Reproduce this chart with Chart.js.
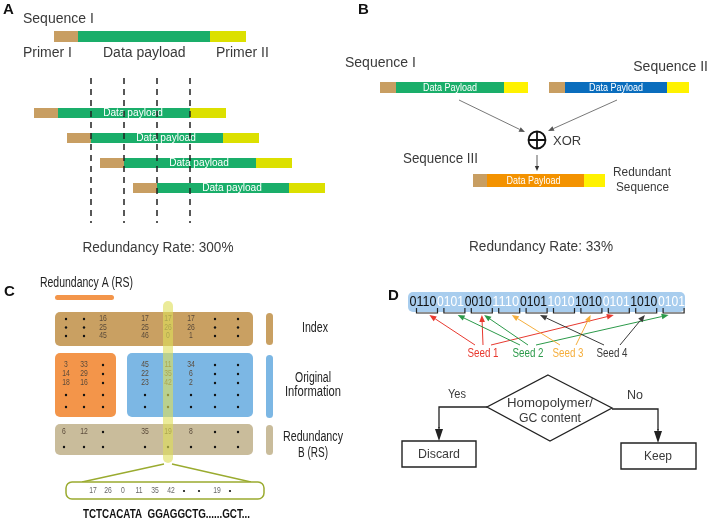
<!DOCTYPE html>
<html>
<head>
<meta charset="utf-8">
<script src="https://cdn.jsdelivr.net/npm/chart.js@4.4.1/dist/chart.umd.min.js"></script>
<style>
  html, body { margin: 0; padding: 0; background: #fff; overflow: hidden; }
  #wrap { position: relative; width: 710px; height: 523px; }
</style>
</head>
<body>
<div id="wrap"><canvas id="fig"></canvas></div>
<script>
"use strict";

// ---- data ----
const seqParts = ["Primer I", "Data payload", "Primer II"];
const partLengths = [24, 132, 36];
const fragmentShifts = [0, 1, 2, 3];

const xorInputs = ["Sequence I", "Sequence II"];
const xorLengths = [[16, 108, 24], [16, 102, 22]];
const redundantLengths = [14, 97, 21];

const indexCols = [[null, null, null], [null, null, null], [16, 25, 45], [17, 25, 46],
                   [17, 26, 0], [17, 26, 1], [null, null, null], [null, null, null]];
const redundancyACols = [[3, 14, 18, null, null], [33, 29, 16, null, null], [null, null, null, null, null]];
const originalCols = [[45, 22, 23, null, null], [11, 35, 42, null, null], [34, 6, 2, null, null],
                      [null, null, null, null, null], [null, null, null, null, null]];
const redundancyBCols = [[6, null], [12, null], [null, null], [35, null], [19, null],
                         [8, null], [null, null], [null, null]];
const strandCodes = [17, 26, 0, 11, 35, 42, null, null, 19, null];
const strandBases = "TCTCACATA  GGAGGCTG......GCT...";

const bitGroups = ["0110", "0101", "0010", "1110", "0101", "1010", "1010", "0101", "1010", "0101"];
const seeds = ["Seed 1", "Seed 2", "Seed 3", "Seed 4"];
const seedTargets = [[1, 3, 8], [2, 3, 10], [4, 7], [5, 9]];
const seedColors = ["#e8392f", "#2c9a4a", "#f5ae3c", "#3a3a3a"];

// ---- drawing helpers ----
const FONT = "'Liberation Sans', Arial, sans-serif";
let X = v => v, Y = v => v;

function text(ctx, s, x, y, o = {}) {
  ctx.save();
  ctx.font = `${o.weight || "normal"} ${o.size || 14}px ${FONT}`;
  ctx.fillStyle = o.color || "#3a3a3a";
  ctx.textBaseline = "middle";
  const w = ctx.measureText(s).width;
  const sx = o.width ? o.width / w : (o.sx || 1);
  ctx.translate(X(x), Y(y));
  ctx.scale(sx, 1);
  const off = o.align === "center" ? -w / 2 : o.align === "right" ? -w : 0;
  ctx.fillText(s, off, 0);
  ctx.restore();
}

function box(ctx, x, y, w, h, r, fill, stroke, lw) {
  ctx.beginPath();
  ctx.roundRect(X(x), Y(y), X(x + w) - X(x), Y(y + h) - Y(y), r);
  if (fill) { ctx.fillStyle = fill; ctx.fill(); }
  if (stroke) { ctx.strokeStyle = stroke; ctx.lineWidth = lw || 1; ctx.stroke(); }
}

function line(ctx, pts, color, lw, dash) {
  ctx.save();
  ctx.beginPath();
  pts.forEach((p, i) => i ? ctx.lineTo(X(p[0]), Y(p[1])) : ctx.moveTo(X(p[0]), Y(p[1])));
  ctx.strokeStyle = color; ctx.lineWidth = lw; ctx.setLineDash(dash || []);
  ctx.stroke();
  ctx.restore();
}

function arrow(ctx, x1, y1, x2, y2, color, lw, hl, hw) {
  const a = Math.atan2(Y(y2) - Y(y1), X(x2) - X(x1));
  const bx = X(x2) - hl * Math.cos(a), by = Y(y2) - hl * Math.sin(a);
  ctx.save();
  ctx.strokeStyle = color; ctx.fillStyle = color; ctx.lineWidth = lw;
  ctx.beginPath(); ctx.moveTo(X(x1), Y(y1)); ctx.lineTo(bx, by); ctx.stroke();
  ctx.beginPath();
  ctx.moveTo(X(x2), Y(y2));
  ctx.lineTo(bx + hw * Math.sin(a), by - hw * Math.cos(a));
  ctx.lineTo(bx - hw * Math.sin(a), by + hw * Math.cos(a));
  ctx.closePath(); ctx.fill();
  ctx.restore();
}

function segBar(ctx, x, y, h, lens, colors) {
  let cx = x;
  lens.forEach((len, i) => {
    ctx.fillStyle = colors[i];
    ctx.fillRect(X(cx), Y(y), X(cx + len) - X(cx), Y(y + h) - Y(y));
    cx += len;
  });
}

function dot(ctx, x, y, r, color) {
  ctx.beginPath();
  ctx.arc(X(x), Y(y), r, 0, Math.PI * 2);
  ctx.fillStyle = color || "#111";
  ctx.fill();
}

// ---- panels ----
function panelA(ctx) {
  const cols = ["#c89e62", "#1aae6a", "#dce000"];
  text(ctx, "A", 3, 10, { size: 15, weight: "bold", color: "#111" });
  text(ctx, "Sequence I", 23, 19, { size: 14 });
  segBar(ctx, 54, 31, 11, partLengths, cols);
  text(ctx, seqParts[0], 23, 53, { size: 14 });
  text(ctx, seqParts[1], 103, 53, { size: 14 });
  text(ctx, seqParts[2], 216, 53, { size: 14 });

  const dashes = [];
  fragmentShifts.forEach(r => {
    const x0 = 34 + 33 * r, y0 = 108 + 25 * r;
    segBar(ctx, x0, y0, 10, partLengths, cols);
    text(ctx, "Data payload", x0 + partLengths[0] + partLengths[1] / 2 + 9, y0 + 5,
         { size: 11, color: "#fff", align: "center", sx: 0.92 });
    if (r > 0) dashes.push(x0 + partLengths[0]);
  });
  dashes.push(34 + partLengths[0] + partLengths[1]);
  dashes.sort((a, b) => a - b).forEach(x => line(ctx, [[x, 78], [x, 223]], "#222", 1.5, [6, 5]));

  text(ctx, "Redundancy Rate: 300%", 158, 248, { size: 14, align: "center", width: 151 });
}

function panelB(ctx) {
  text(ctx, "B", 358, 10, { size: 15, weight: "bold", color: "#111" });
  text(ctx, xorInputs[0], 345, 63, { size: 14 });
  text(ctx, xorInputs[1], 708, 67, { size: 14, align: "right" });
  segBar(ctx, 380, 82, 11, xorLengths[0], ["#c89e62", "#1aae6a", "#fff200"]);
  segBar(ctx, 549, 82, 11, xorLengths[1], ["#c89e62", "#0a6dbd", "#fff200"]);
  text(ctx, "Data Payload", 380 + xorLengths[0][0] + xorLengths[0][1] / 2, 88,
       { size: 10.5, color: "#fff", align: "center", width: 54 });
  text(ctx, "Data Payload", 549 + xorLengths[1][0] + xorLengths[1][1] / 2, 88,
       { size: 10.5, color: "#fff", align: "center", width: 54 });

  arrow(ctx, 459, 100, 525, 132, "#555", 0.8, 6, 2.5);
  arrow(ctx, 617, 100, 548, 131, "#555", 0.8, 6, 2.5);

  // XOR symbol
  ctx.save();
  ctx.strokeStyle = "#111"; ctx.lineWidth = 1.8;
  ctx.beginPath(); ctx.arc(X(537), Y(140), 8.5, 0, Math.PI * 2); ctx.stroke();
  ctx.beginPath();
  ctx.moveTo(X(528.5), Y(140)); ctx.lineTo(X(545.5), Y(140));
  ctx.moveTo(X(537), Y(131.5)); ctx.lineTo(X(537), Y(148.5));
  ctx.stroke();
  ctx.restore();
  text(ctx, "XOR", 553, 141, { size: 13 });
  arrow(ctx, 537, 155, 537, 171, "#333", 0.8, 5, 2.2);

  text(ctx, "Sequence III", 403, 159, { size: 14, width: 75 });
  segBar(ctx, 473, 174, 13, redundantLengths, ["#c89e62", "#f39200", "#fff200"]);
  text(ctx, "Data Payload", 473 + redundantLengths[0] + redundantLengths[1] / 2 - 2, 181,
       { size: 10.5, color: "#fff", align: "center", width: 54 });
  text(ctx, "Redundant", 613, 172, { size: 13, width: 58 });
  text(ctx, "Sequence", 616, 187, { size: 13, width: 53 });

  text(ctx, "Redundancy Rate: 33%", 541, 247, { size: 14, align: "center", width: 144 });
}

function panelC(ctx) {
  const colX = [66, 84, 103, 145, 168, 191, 215, 238];
  const num = (v, x, y) => v === null ? dot(ctx, x, y, 1.2, "#111")
    : text(ctx, String(v), x, y, { size: 8.5, color: "#5a4a3a", align: "center", sx: 0.8 });

  text(ctx, "C", 4, 292, { size: 15, weight: "bold", color: "#111" });
  text(ctx, "Redundancy A (RS)", 40, 283, { size: 14, color: "#222", width: 93 });
  box(ctx, 55, 295, 59, 5, 2.5, "#f3954a");

  box(ctx, 55, 312, 198, 34, 5, "#c9a062");
  box(ctx, 55, 353, 61, 64, 5, "#f3954a");
  box(ctx, 127, 353, 126, 64, 5, "#7cb7e4");
  box(ctx, 55, 424, 198, 31, 5, "#c9bc9b");

  const idxY = [319, 327.5, 336];
  indexCols.forEach((c, i) => c.forEach((v, j) => num(v, colX[i], idxY[j])));
  const infY = [365, 374, 383, 395, 407];
  redundancyACols.forEach((c, i) => c.forEach((v, j) => num(v, colX[i], infY[j])));
  originalCols.forEach((c, i) => c.forEach((v, j) => num(v, colX[i + 3], infY[j])));
  const rbY = [432, 447];
  redundancyBCols.forEach((c, i) => c.forEach((v, j) => num(v, colX[i] - (i === 0 ? 2 : 0), rbY[j])));

  // highlighted column
  box(ctx, 163, 301, 10, 162, 5, "rgba(222,222,90,0.62)");

  // side keys
  box(ctx, 266, 313, 7, 32, 3.5, "#c9a062");
  box(ctx, 266, 355, 7, 63, 3.5, "#7cb7e4");
  box(ctx, 266, 425, 7, 30, 3.5, "#c9bc9b");
  text(ctx, "Index", 315, 328, { size: 14, color: "#222", align: "center", width: 26 });
  text(ctx, "Original", 313, 378, { size: 14, color: "#222", align: "center", width: 36 });
  text(ctx, "Information", 313, 392, { size: 14, color: "#222", align: "center", width: 56 });
  text(ctx, "Redundancy", 313, 437, { size: 14, color: "#222", align: "center", width: 60 });
  text(ctx, "B (RS)", 313, 453, { size: 14, color: "#222", align: "center", width: 30 });

  // zoomed strand
  line(ctx, [[164, 464], [82, 482]], "#9aab2f", 1.3);
  line(ctx, [[172, 464], [251, 482]], "#9aab2f", 1.3);
  box(ctx, 66, 482, 198, 17, 6, "#fff", "#9aab2f", 1.5);
  const codeX = [93, 108, 123, 139, 155, 171, 184, 199, 217, 230];
  strandCodes.forEach((v, i) => v === null ? dot(ctx, codeX[i], 491, 1.1, "#111")
    : text(ctx, String(v), codeX[i], 491, { size: 8.5, color: "#666", align: "center", sx: 0.8 }));
  text(ctx, strandBases, 83, 515, { size: 12.5, weight: "bold", color: "#111", width: 167 });
}

function panelD(ctx) {
  text(ctx, "D", 388, 296, { size: 15, weight: "bold", color: "#111" });
  box(ctx, 408, 292, 277, 20, 5, "#a8cdee");
  const gx = i => 423 + 27.6 * i;
  bitGroups.forEach((g, i) => text(ctx, g, gx(i), 302.5,
    { size: 14, color: i % 2 ? "#fff" : "#111", align: "center", width: 27 }));
  // brackets
  const bc = i => 427 + 27.4 * i;
  bitGroups.forEach((g, i) => line(ctx, [[bc(i) - 10.5, 308], [bc(i) - 10.5, 313],
    [bc(i) + 10.5, 313], [bc(i) + 10.5, 308]], "#222", 1.2));

  const seedX = [483, 528, 568, 612];
  seeds.forEach((s, k) => {
    text(ctx, s, seedX[k], 353, { size: 13, color: seedColors[k], align: "center", width: 31 });
    const t = seedTargets[k].slice().sort((a, b) => a - b);
    t.forEach((b, j) => {
      const ox = seedX[k] - 8 + (t.length > 1 ? 16 * j / (t.length - 1) : 0);
      const cx = bc(b - 1);
      const tx = cx + Math.max(-5, Math.min(5, (ox - cx) * 0.05));
      arrow(ctx, ox, 345, tx, 315, seedColors[k], 1, 7, 2.8);
    });
  });

  // decision diamond
  ctx.save();
  ctx.beginPath();
  ctx.moveTo(X(548), Y(375)); ctx.lineTo(X(612), Y(408));
  ctx.lineTo(X(550), Y(441)); ctx.lineTo(X(487), Y(407)); ctx.closePath();
  ctx.strokeStyle = "#222"; ctx.lineWidth = 1.3; ctx.stroke();
  ctx.restore();
  text(ctx, "Homopolymer/", 550, 403, { size: 13, align: "center", width: 86 });
  text(ctx, "GC content", 550, 418, { size: 13, align: "center", width: 62 });

  line(ctx, [[487, 407], [439, 407], [439, 428]], "#222", 1.3);
  arrow(ctx, 439, 427, 439, 441, "#222", 1.3, 12, 4);
  line(ctx, [[612, 409], [658, 409], [658, 430]], "#222", 1.3);
  arrow(ctx, 658, 429, 658, 443, "#222", 1.3, 12, 4);
  text(ctx, "Yes", 457, 395, { size: 12, align: "center", width: 18 });
  text(ctx, "No", 635, 396, { size: 12, align: "center", width: 16 });

  box(ctx, 402, 441, 74, 26, 0, "#fff", "#222", 1.4);
  box(ctx, 621, 443, 75, 26, 0, "#fff", "#222", 1.4);
  text(ctx, "Discard", 439, 454, { size: 13, align: "center", width: 42 });
  text(ctx, "Keep", 658, 456, { size: 13, align: "center", width: 28 });
}

const diagram = {
  id: "diagram",
  beforeDraw(chart) {
    const { ctx, width, height } = chart;
    ctx.save();
    ctx.fillStyle = "#fff";
    ctx.fillRect(0, 0, width, height);
    ctx.restore();
  },
  afterDraw(chart) {
    const { ctx, scales } = chart;
    X = v => scales.x.getPixelForValue(v);
    Y = v => scales.y.getPixelForValue(v);
    ctx.save();
    panelA(ctx);
    panelB(ctx);
    panelC(ctx);
    panelD(ctx);
    ctx.restore();
  },
};

new Chart(document.getElementById("fig").getContext("2d"), {
  type: "scatter",
  data: { datasets: [{ data: [] }] },
  options: {
    responsive: true,
    maintainAspectRatio: false,
    animation: false,
    layout: { padding: 0 },
    plugins: { legend: { display: false }, tooltip: { enabled: false } },
    scales: {
      x: { type: "linear", min: 0, max: 710, display: false },
      y: { type: "linear", min: 0, max: 523, reverse: true, display: false },
    },
  },
  plugins: [diagram],
});
</script>
</body>
</html>
